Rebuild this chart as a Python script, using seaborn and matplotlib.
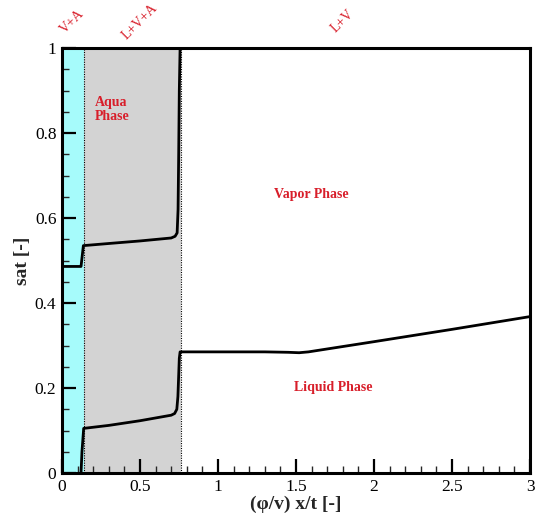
import numpy as np
import pandas as pd
import matplotlib
matplotlib.use("Agg")
import matplotlib.pyplot as plt
import seaborn as sns

# Saturation profiles along the similarity variable
x_gas = [0.0, 0.122, 0.137, 0.30, 0.50, 0.70, 0.725, 0.738, 0.744, 0.748, 0.752, 0.757, 3.0]
s_gas = [0.486, 0.486, 0.535, 0.540, 0.546, 0.553, 0.557, 0.565, 0.62, 0.75, 0.90, 1.0, 1.0]

x_liq = [0.122, 0.128, 0.139, 0.30, 0.50, 0.70, 0.722, 0.736, 0.743, 0.748, 0.752, 0.757,
         1.0, 1.30, 1.45, 1.52, 1.58, 1.65, 2.0, 2.5, 3.0]
s_liq = [0.0, 0.05, 0.105, 0.112, 0.123, 0.136, 0.140, 0.150, 0.18, 0.23, 0.27, 0.285,
         0.285, 0.285, 0.284, 0.283, 0.285, 0.289, 0.309, 0.338, 0.368]

# Phase region boundaries
x_aqua_edge = 0.141
x_three_phase_edge = 0.763

region_labels = ["V+A", "L+V+A", "L+V"]
region_label_x = [0.064, 0.50, 1.80]

sns.set_theme(style="ticks")
plt.rcParams["font.family"] = ["Liberation Serif", "DejaVu Serif"]

fig = plt.figure(figsize=(5.35, 5.21), dpi=100)
ax = fig.add_axes([62 / 535, 48 / 521, 468 / 535, 425 / 521])

red = "#d81e2a"

ax.axvspan(0.0, x_aqua_edge, color="#a6fbfb", lw=0, zorder=0)
ax.axvspan(x_aqua_edge, x_three_phase_edge, color="#d3d3d3", lw=0, zorder=0)
ax.axvline(x_aqua_edge, color="black", lw=0.8, ls=(0, (1, 1.2)), zorder=1)
ax.axvline(x_three_phase_edge, color="black", lw=0.8, ls=(0, (1, 1.2)), zorder=1)

gas = pd.DataFrame({"x": x_gas, "s": s_gas})
liq = pd.DataFrame({"x": x_liq, "s": s_liq})
sns.lineplot(data=gas, x="x", y="s", ax=ax, color="black", lw=2.0, sort=False,
             estimator=None, zorder=3)
sns.lineplot(data=liq, x="x", y="s", ax=ax, color="black", lw=2.0, sort=False,
             estimator=None, zorder=3)

ax.set_xlim(0, 3)
ax.set_ylim(0, 1)
ax.set_xticks(np.arange(0, 3.01, 0.5))
ax.set_xticklabels(["0", "0.5", "1", "1.5", "2", "2.5", "3"])
ax.set_yticks(np.arange(0, 1.01, 0.2))
ax.set_yticklabels(["0", "0.2", "0.4", "0.6", "0.8", "1"])
ax.set_xticks(np.arange(0, 3.01, 0.1), minor=True)
ax.set_yticks(np.arange(0, 1.01, 0.05), minor=True)
ax.tick_params(axis="both", which="major", direction="in", length=10, width=1.6,
               labelsize=12.5, pad=4, colors="black")
ax.tick_params(axis="both", which="minor", direction="in", length=5, width=1.0)
for sp in ax.spines.values():
    sp.set_linewidth(2.2)
    sp.set_color("black")
    sp.set_zorder(5)

ax.set_xlabel("(φ/v) x/t [-]", fontsize=14, fontweight="bold", labelpad=1)
ax.set_ylabel("sat [-]", fontsize=14, fontweight="bold", labelpad=3)

ax.text(0.21, 0.855, "Aqua\nPhase", color=red, fontsize=10, fontweight="bold",
        ha="left", va="center", linespacing=1.15)
ax.text(1.6, 0.655, "Vapor Phase", color=red, fontsize=10, fontweight="bold",
        ha="center", va="center")
ax.text(1.74, 0.2, "Liquid Phase", color=red, fontsize=10, fontweight="bold",
        ha="center", va="center")

for lab, xl in zip(region_labels, region_label_x):
    ax.text(xl, 1.062, lab, color=red, fontsize=10, rotation=45,
            ha="center", va="center")

fig.savefig("out.png", dpi=100)
